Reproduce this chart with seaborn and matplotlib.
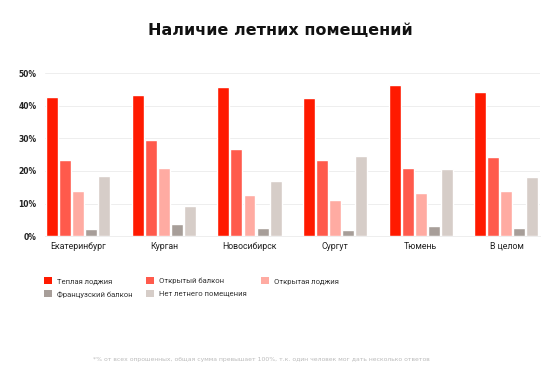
import pandas as pd
import seaborn as sns
import matplotlib.pyplot as plt
from matplotlib.patches import Patch

# data
cities = ['Екатеринбург', 'Курган', 'Новосибирск', 'Сургут', 'Тюмень', 'В целом']
warm_loggia = [42.6, 43.3, 45.8, 42.3, 46.4, 44.3]
open_balcony = [23.4, 29.4, 26.7, 23.4, 20.9, 24.4]
open_loggia = [13.9, 20.9, 12.6, 11.2, 13.2, 13.8]
french_balcony = [2.3, 3.7, 2.6, 1.8, 3.0, 2.6]
no_summer_room = [18.5, 9.1, 17.0, 24.6, 20.7, 18.2]

series = ['Теплая лоджия', 'Открытый балкон', 'Открытая лоджия',
          'Французский балкон', 'Нет летнего помещения']
colors = ['#ff1a00', '#ff5a4c', '#ffaba2', '#a79e99', '#d6cdc8']

values = [warm_loggia, open_balcony, open_loggia, french_balcony, no_summer_room]
rows = []
for name, vals in zip(series, values):
    for city, v in zip(cities, vals):
        rows.append({'city': city, 'type': name, 'value': v})
df = pd.DataFrame(rows)

sns.set_theme(style='white')
plt.rcParams['font.family'] = ['Roboto', 'DejaVu Sans']

fig = plt.figure(figsize=(5.6, 3.73), dpi=100)
ax = fig.add_axes([0.080, 0.367, 0.884, 0.437])

sns.barplot(data=df, x='city', y='value', hue='type', hue_order=series,
            palette=colors, width=0.76, gap=0.08, ax=ax, legend=False,
            saturation=1)

ax.set_ylim(0, 50)
ax.set_xlim(-0.39, 5.39)
ax.set_yticks([0, 10, 20, 30, 40, 50])
ax.set_yticklabels([f'{t}%' for t in [0, 10, 20, 30, 40, 50]],
                   fontsize=5.5, fontweight='bold', color='#222222',
                   family='DejaVu Sans')
ax.tick_params(axis='y', length=0, pad=6)
ax.tick_params(axis='x', length=0, pad=4, labelsize=6.3, labelcolor='#222222')
ax.set_xlabel('')
ax.set_ylabel('')
ax.yaxis.grid(True, color='#eeeeee', linewidth=0.7)
ax.set_axisbelow(True)
for s in ['top', 'right', 'left']:
    ax.spines[s].set_visible(False)
ax.spines['bottom'].set_color('#eeeeee')
ax.spines['bottom'].set_linewidth(0.7)

fig.text(0.5, 0.918, 'Наличие летних помещений', ha='center', va='center',
         fontsize=11.5, fontweight='bold', color='#111111', family='DejaVu Sans')

# legend filled row by row: 3 items on the first row, 2 on the second
order = [0, 3, 1, 4, 2]
handles = [Patch(facecolor=colors[i], edgecolor='none') for i in order]
labels = [series[i] for i in order]
fig.legend(handles, labels, loc='upper left', bbox_to_anchor=(0.066, 0.275),
           ncol=3, frameon=False, fontsize=5.5, handlelength=1.05,
           handleheight=1.05, handletextpad=0.65, columnspacing=1.8,
           labelspacing=0.75, labelcolor='#333333')

fig.text(0.467, 0.035, '*% от всех опрошенных, общая сумма превышает 100%, т.к. один человек мог дать несколько ответов',
         ha='center', va='center', fontsize=4.4, color='#bbbbbb',
         family='DejaVu Sans')

fig.savefig('out.png', dpi=100, facecolor='white')
